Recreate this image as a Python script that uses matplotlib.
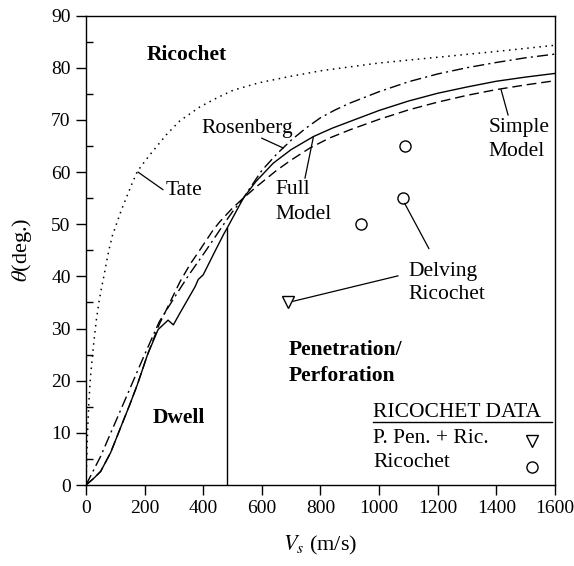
import numpy as np
import matplotlib.pyplot as plt
from matplotlib.ticker import MultipleLocator

plt.rcParams["font.family"] = ["Liberation Serif", "DejaVu Serif"]
plt.rcParams["mathtext.fontset"] = "stix"

# Tate (dotted)
tate_v = [0, 3, 6, 10, 15, 20, 27, 35, 44, 52, 61, 70, 78, 90, 107, 120, 135,
          155, 175, 200, 221, 250, 275, 320, 389, 450, 503, 590, 685, 800,
          1000, 1200, 1344, 1450, 1600]
tate_t = [0, 6, 11, 16, 20.5, 23.5, 27.5, 31.5, 35, 37.5, 40, 42.7, 45, 47.8,
          50.5, 52.6, 54.7, 57.5, 60.1, 62, 63.5, 65.5, 67.2, 69.8, 72.5, 74.3,
          75.7, 77.1, 78.2, 79.4, 80.9, 82.0, 82.8, 83.4, 84.3]

# Rosenberg (dash-dot)
ros_v = [0, 50, 100, 150, 200, 250, 300, 350, 400, 434, 470, 500, 537, 570,
         600, 650, 700, 750, 800, 850, 900, 1000, 1100, 1200, 1300, 1400,
         1500, 1600]
ros_t = [0, 5.5, 12, 18.5, 25, 31.3, 35.8, 40.2, 44.2, 47.0, 50.0, 52.4,
         55.0, 57.8, 60.3, 63.4, 66.1, 68.4, 70.4, 71.9, 73.2, 75.4, 77.3,
         78.8, 80.0, 81.0, 81.9, 82.6]

# Full model (solid)
full_v = [0, 25, 50, 84, 118, 150, 175, 210, 246, 280, 298, 321, 372, 383,
          400, 440, 469, 482, 537, 580, 639, 700, 776, 840, 901, 1000, 1100,
          1200, 1300, 1400, 1500, 1600]
full_t = [0, 1.2, 2.6, 6.2, 11, 15.5, 19.2, 25, 29.8, 31.6, 30.7, 33, 38,
          39.4, 40.3, 44.8, 48.0, 49.3, 55.0, 58.2, 61.7, 64.3, 66.8, 68.4,
          69.7, 71.8, 73.6, 75.1, 76.3, 77.4, 78.2, 78.9]

# Simple model (dashed)
simp_v = [0, 25, 50, 84, 118, 150, 175, 210, 250, 321, 355, 389, 434, 457,
          500, 537, 582, 650, 700, 764, 830, 901, 1000, 1100, 1200, 1300,
          1400, 1500, 1600]
simp_t = [0, 1.2, 2.6, 6.2, 11, 15.5, 19.2, 25, 30.8, 39, 42.3, 45.1, 48.9,
          50.5, 53.1, 55.0, 57.2, 60.3, 62.3, 64.6, 66.5, 68.1, 70.1, 71.9,
          73.4, 74.7, 75.8, 76.7, 77.5]

# ricochet data
pen_v = [690]
pen_t = [35]
ric_v = [937, 1082, 1087]
ric_t = [50, 55, 65]

dwell_v = 482

fig = plt.figure(figsize=(5.74, 5.66), dpi=100)
ax = fig.add_axes([0.1498, 0.1431, 0.8171, 0.8295])

lw = 1.0
ax.plot(tate_v, tate_t, color="black", lw=1.1, linestyle=(0, (1, 3)))
ax.plot(ros_v, ros_t, color="black", lw=lw, linestyle=(0, (8, 3, 1.5, 3)))
ax.plot(full_v, full_t, color="black", lw=lw, linestyle="-")
ax.plot(simp_v, simp_t, color="black", lw=lw, linestyle=(0, (7, 3.5)))

# dwell boundary
ax.plot([dwell_v, dwell_v], [0, np.interp(dwell_v, full_v, full_t)],
        color="black", lw=lw)

ax.plot(pen_v, pen_t, linestyle="none", marker="v", ms=8, mfc="white",
        mec="black", mew=1.0)
ax.plot(ric_v, ric_t, linestyle="none", marker="o", ms=8, mfc="white",
        mec="black", mew=1.0)

fs = 15.5
leader = dict(arrowstyle="-", color="black", lw=0.9, shrinkA=0, shrinkB=0)

# curve labels
ax.text(270, 56.5, "Tate", fontsize=fs, ha="left", va="center")
ax.annotate("", xy=(177, 60), xytext=(263, 56.6), arrowprops=leader)

ax.text(395, 68.4, "Rosenberg", fontsize=fs, ha="left", va="center")
ax.annotate("", xy=(673, 64.6), xytext=(599, 66.5), arrowprops=leader)

ax.text(648, 56.6, "Full", fontsize=fs, ha="left", va="center")
ax.text(648, 51.8, "Model", fontsize=fs, ha="left", va="center")
ax.annotate("", xy=(776, 66.8), xytext=(747, 58.8), arrowprops=leader)

ax.text(1372, 68.5, "Simple", fontsize=fs, ha="left", va="center")
ax.text(1372, 63.9, "Model", fontsize=fs, ha="left", va="center")
ax.annotate("", xy=(1416, 75.8), xytext=(1440, 70.9), arrowprops=leader)

ax.text(1099, 40.9, "Delving", fontsize=fs, ha="left", va="center")
ax.text(1099, 36.5, "Ricochet", fontsize=fs, ha="left", va="center")
ax.annotate("", xy=(1087, 54.0), xytext=(1170, 45.3), arrowprops=leader)
ax.annotate("", xy=(705, 35.2), xytext=(1065, 40.1), arrowprops=leader)

# region labels
ax.text(345, 82.4, "Ricochet", fontsize=fs, fontweight="bold",
        ha="center", va="center")
ax.text(317, 12.9, "Dwell", fontsize=fs, fontweight="bold",
        ha="center", va="center")
ax.text(693, 25.9, "Penetration/", fontsize=fs, fontweight="bold",
        ha="left", va="center")
ax.text(693, 20.8, "Perforation", fontsize=fs, fontweight="bold",
        ha="left", va="center")

# data key
ax.text(979, 13.9, "RICOCHET DATA", fontsize=fs, ha="left", va="center")
ax.plot([979, 1590], [12.0, 12.0], color="black", lw=1.0)
ax.text(979, 8.9, "P. Pen. + Ric.", fontsize=fs, ha="left", va="center")
ax.plot([1522], [8.5], linestyle="none", marker="v", ms=8, mfc="white",
        mec="black", mew=1.0)
ax.text(979, 4.3, "Ricochet", fontsize=fs, ha="left", va="center")
ax.plot([1522], [3.5], linestyle="none", marker="o", ms=8, mfc="white",
        mec="black", mew=1.0)

ax.set_xlim(0, 1600)
ax.set_ylim(0, 90)
ax.xaxis.set_major_locator(MultipleLocator(200))
ax.yaxis.set_major_locator(MultipleLocator(10))
ax.yaxis.set_minor_locator(MultipleLocator(5))
ax.tick_params(axis="both", which="major", direction="out", length=7,
               width=1.0, labelsize=14, pad=4)
ax.tick_params(axis="y", which="minor", direction="in", length=5, width=1.0)
for s in ax.spines.values():
    s.set_linewidth(1.0)

ax.set_xlabel(r"$V_s$ (m/s)", fontsize=16, labelpad=12)
ax.set_ylabel(r"$\theta$(deg.)", fontsize=16, labelpad=12)

fig.savefig("out.png", dpi=100)
